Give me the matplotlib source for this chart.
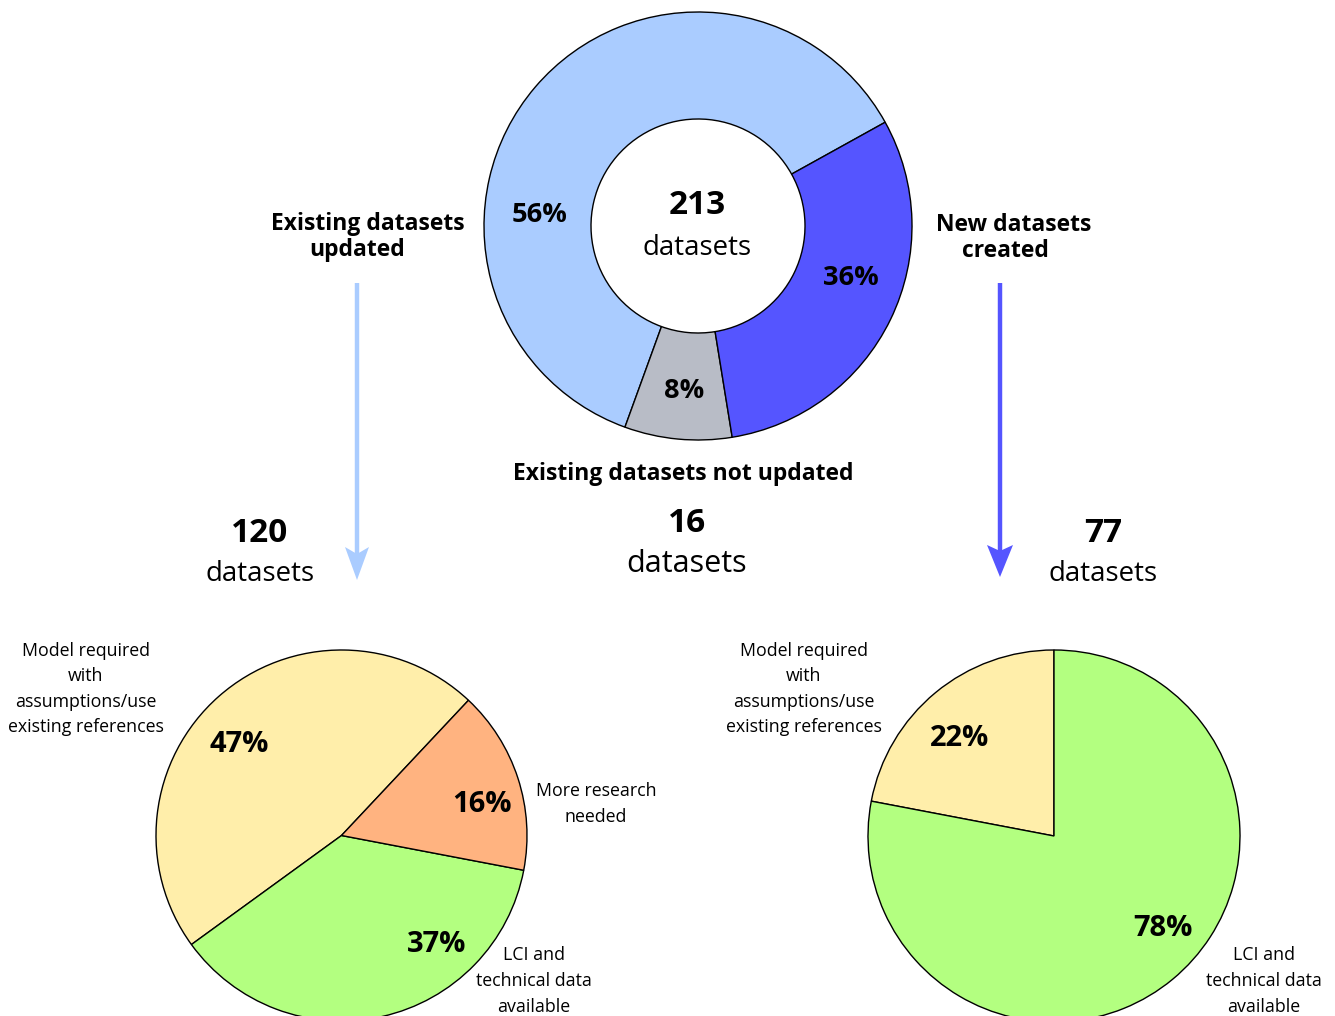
import matplotlib
matplotlib.use('Agg')
import matplotlib.pyplot as plt
from matplotlib.patches import Polygon

W, H = 1335, 1016
plt.rcParams['font.family'] = ['Open Sans', 'DejaVu Sans']

# ---------------- data ----------------
total_datasets = 213
donut_categories = ['Existing datasets updated', 'Existing datasets not updated', 'New datasets created']
donut_counts = [120, 16, 77]
donut_pct_labels = ['56%', '8%', '36%']
donut_shares = [61.4, 8.1, 30.5]          # wedge sizes as drawn in the reference
donut_colors = ['#aaccff', '#b8bcc6', '#5555ff']

left_categories = ['Model required\nwith\nassumptions/use\nexisting references',
                   'LCI and\ntechnical data\navailable',
                   'More research\nneeded']
left_pct = [47, 37, 16]
left_colors = ['#ffeeaa', '#b3ff80', '#ffb380']

right_categories = ['Model required\nwith\nassumptions/use\nexisting references',
                    'LCI and\ntechnical data\navailable']
right_pct = [22, 78]
right_colors = ['#ffeeaa', '#b3ff80']

# ---------------- figure ----------------
fig = plt.figure(figsize=(W / 100, H / 100), dpi=100)
ax = fig.add_axes([0, 0, 1, 1])


def Y(y):
    return H - y


edge = dict(edgecolor='black', linewidth=1.0)

# donut
ax.pie(donut_shares, colors=donut_colors, startangle=29, counterclock=True,
       center=(698, Y(226)), radius=214,
       wedgeprops=dict(width=107, **edge))

# bottom-left pie
ax.pie(left_pct, colors=left_colors, startangle=46.8, counterclock=True,
       center=(341.5, Y(835.5)), radius=185.5, wedgeprops=edge)

# bottom-right pie
ax.pie(right_pct, colors=right_colors, startangle=90, counterclock=True,
       center=(1054, Y(836)), radius=186, wedgeprops=edge)

ax.set_xlim(0, W)
ax.set_ylim(0, H)
ax.set_aspect('equal')
ax.axis('off')

DY = 3


def T(x, y, s, size, bold=False, **kw):
    ax.text(x, Y(y + DY), s, fontsize=size, fontweight='bold' if bold else 'normal',
            ha='center', va='center', color='black', **kw)


# percentage labels
d_pct = 19.6
p_pct = 21
T(540, 212, donut_pct_labels[0], d_pct, True)
T(684, 388, donut_pct_labels[1], d_pct, True)
T(851, 275, donut_pct_labels[2], d_pct, True)
T(239, 742, f'{left_pct[0]}%', p_pct, True)
T(437, 942, f'{left_pct[1]}%', p_pct, True)
T(482, 802, f'{left_pct[2]}%', p_pct, True)
T(960, 736, f'{right_pct[0]}%', p_pct, True)
T(1163, 926, f'{right_pct[1]}%', p_pct, True)

# centre
T(697, 203, str(total_datasets), 24, True)
T(697, 245, 'datasets', 19.9)

# headings
head = 16.5
T(368, 221, 'Existing datasets', head, True)
T(357, 247, 'updated', head, True)
T(1014, 222, 'New datasets', head, True)
T(1005, 248, 'created', head, True)
T(683, 471, donut_categories[1], head, True)

# counts
T(260, 530, str(donut_counts[0]), 24, True)
T(260, 571, 'datasets', 19.9)
T(687, 520, str(donut_counts[1]), 24, True)
T(687, 561, 'datasets', 22)
T(1103, 530, str(donut_counts[2]), 24, True)
T(1103, 571, 'datasets', 19.9)

# small category labels
small = 12.8
LS = 1.54


def S(x, y, s):
    ax.text(x, Y(y + 1), s, fontsize=small, ha='center', va='center',
            multialignment='center', linespacing=LS)


S(86, 688, left_categories[0])
S(534, 980, left_categories[1])
S(596, 803, left_categories[2])
S(804, 688, right_categories[0])
S(1264, 980, right_categories[1])


# arrows
def arrow(x, y0, y_notch, y_side, y_tip, half, color):
    ax.plot([x, x], [Y(y0), Y(y_notch)], color=color, linewidth=3.2,
            solid_capstyle='butt')
    ax.add_patch(Polygon([(x - half, Y(y_side)), (x, Y(y_notch)),
                          (x + half, Y(y_side)), (x, Y(y_tip))],
                         closed=True, facecolor=color, edgecolor='none'))


arrow(357, 283, 554, 547, 580, 12, donut_colors[0])
arrow(1000, 283, 551, 545, 577, 13, donut_colors[2])

fig.savefig('out.png', dpi=100)
